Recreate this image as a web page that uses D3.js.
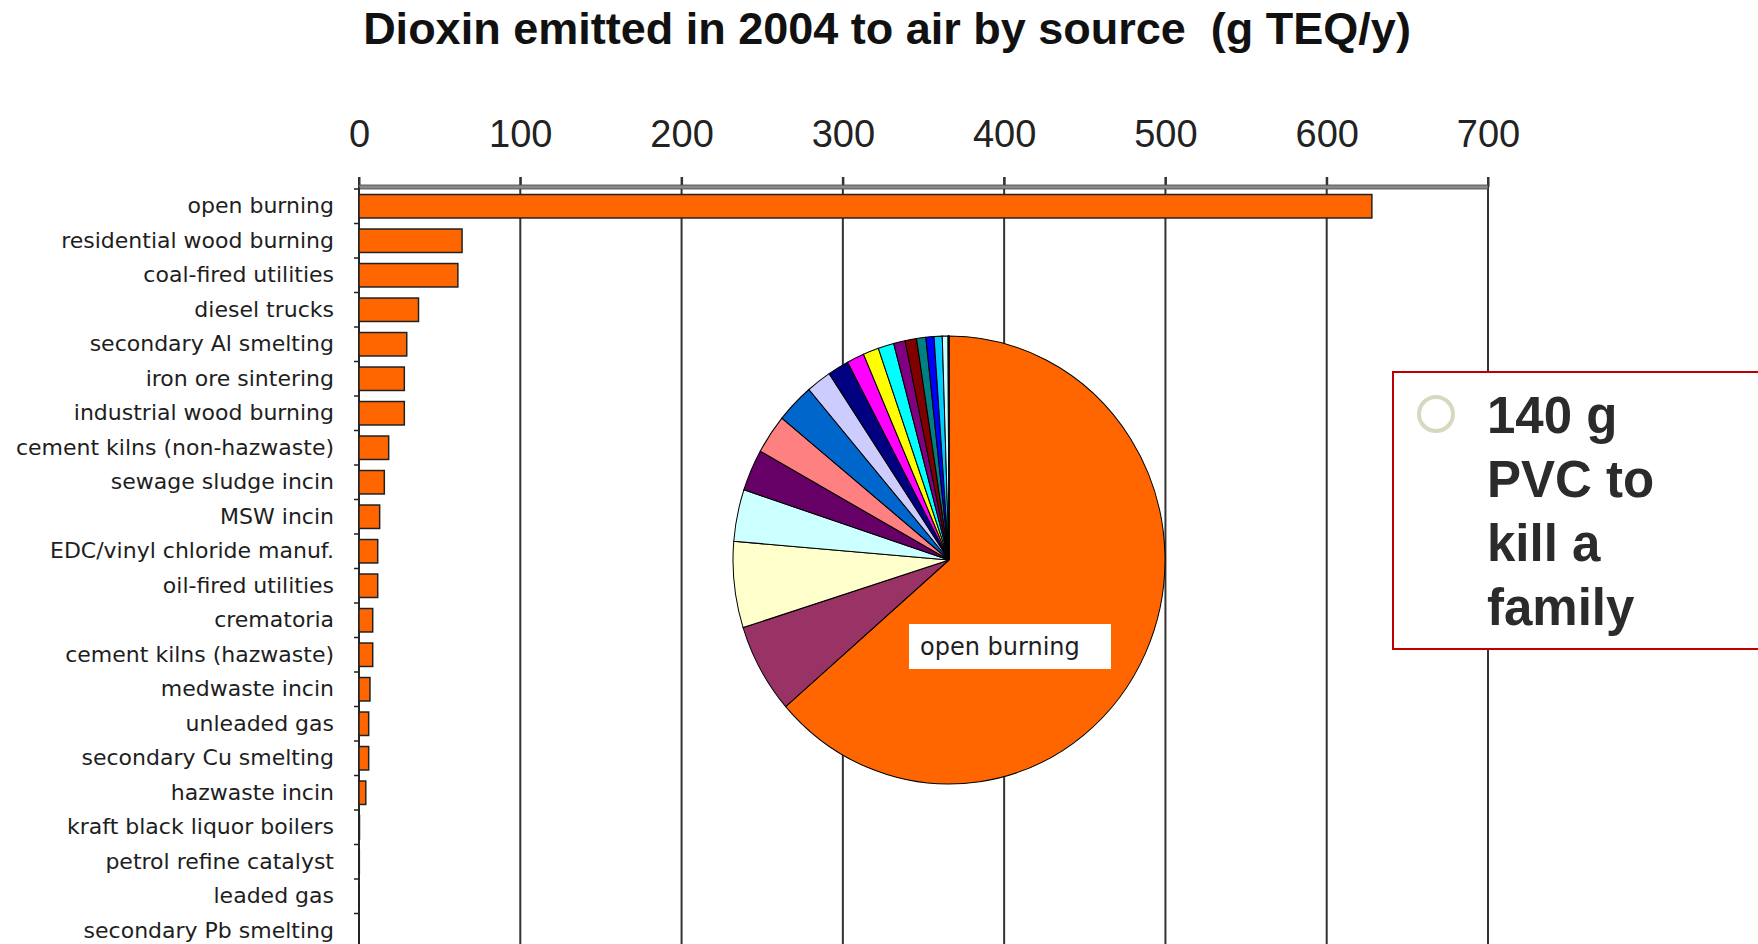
<!DOCTYPE html>
<html>
<head>
<meta charset="utf-8">
<script src="https://cdn.jsdelivr.net/npm/d3@7"></script>
<style>
  body { margin: 0; background: #fff; }
  svg { display: block; }
</style>
</head>
<body>
<div class="graph"></div>
<script>
// source categories, top to bottom
const sources = [
  "open burning", "residential wood burning", "coal-fired utilities", "diesel trucks",
  "secondary Al smelting", "iron ore sintering", "industrial wood burning",
  "cement kilns (non-hazwaste)", "sewage sludge incin", "MSW incin",
  "EDC/vinyl chloride manuf.", "oil-fired utilities", "crematoria",
  "cement kilns (hazwaste)", "medwaste incin", "unleaded gas",
  "secondary Cu smelting", "hazwaste incin", "kraft black liquor boilers",
  "petrol refine catalyst", "leaded gas", "secondary Pb smelting"
]
// g TEQ/y
const emissions = [628, 63.9, 61.3, 36.9, 29.6, 28.1, 28.1, 18.4, 15.7, 12.8, 11.6, 11.6,
  8.5, 8.5, 6.8, 6.0, 6.0, 4.2, 0.3, 0.2, 0.1, 0.1]
const xTicks = [0, 100, 200, 300, 400, 500, 600, 700]
const pieColors = ["#FF6600", "#993366", "#FFFFCC", "#CCFFFF", "#660066", "#FF8080", "#0066CC",
  "#CCCCFF", "#000080", "#FF00FF", "#FFFF00", "#00FFFF", "#800080", "#800000", "#008080",
  "#0000FF", "#00CCFF", "#CCFFFF", "#CCFFCC", "#FFFF99", "#99CCFF", "#FF99CC"]
const noteLines = ["140 g", "PVC to", "kill a", "family"]

let data = sources.map((s, i) => ({source: s, value: emissions[i]}))

const W = 1758, H = 944

let svg = d3.select('.graph')
    .append('svg')
    .attr('width', W)
    .attr('height', H)

let x = d3.scaleLinear().domain([0, 700]).range([359, 1488])
let y = d3.scaleBand().domain(sources).range([189, 189 + 34.5 * sources.length])
    .paddingInner(0.32).paddingOuter(0.16)

// title
svg.append('text')
    .attr('x', 887).attr('y', 44)
    .attr('text-anchor', 'middle')
    .style('font-family', '"Liberation Sans", Arial, sans-serif')
    .style('font-weight', 'bold')
    .style('font-size', '45px')
    .attr('fill', '#111')
    .text('Dioxin emitted in 2004 to air by source\u00a0\u00a0(g TEQ/y)')

// vertical grid lines
svg.append('g').selectAll('line')
    .data(xTicks)
    .enter()
    .append('line')
    .attr('x1', d => x(d)).attr('x2', d => x(d))
    .attr('y1', 177).attr('y2', H)
    .attr('stroke', '#333')
    .attr('stroke-width', 2)

// top axis
let xAxis = d3.axisTop(x).tickValues(xTicks).tickSize(10).tickPadding(30)
let gx = svg.append('g').attr('transform', 'translate(0,187)').call(xAxis)
gx.select('.domain').remove()
gx.selectAll('line').attr('stroke', '#333').attr('stroke-width', 2)
gx.selectAll('text')
    .style('font-family', '"Liberation Sans", Arial, sans-serif')
    .style('font-size', '38px')
    .attr('fill', '#222')

svg.append('rect')
    .attr('x', x(0)).attr('y', 185)
    .attr('width', x(700) - x(0)).attr('height', 4)
    .attr('fill', '#8a8a8a')
    .attr('stroke', '#444').attr('stroke-width', 0.8)

// left axis with labels
let yAxis = d3.axisLeft(y).tickSize(0).tickPadding(25)
let gy = svg.append('g').attr('transform', 'translate(' + x(0) + ',0)').call(yAxis)
gy.select('.domain').attr('stroke', '#222').attr('stroke-width', 1.2)
    .attr('d', 'M0,187V' + H)
gy.selectAll('text')
    .style('font-family', '"DejaVu Sans", Verdana, sans-serif')
    .style('font-size', '22px')
    .attr('fill', '#1e1e1e')

// little ticks at band boundaries
svg.append('g').selectAll('line')
    .data(sources)
    .enter()
    .append('line')
    .attr('x1', x(0) - 5).attr('x2', x(0))
    .attr('y1', d => y(d) - y.step() * y.paddingInner() / 2)
    .attr('y2', d => y(d) - y.step() * y.paddingInner() / 2)
    .attr('stroke', '#222')
    .attr('stroke-width', 1.5)

// bars
svg.append('g').selectAll('rect')
    .data(data)
    .enter()
    .append('rect')
    .attr('x', x(0))
    .attr('y', d => y(d.source))
    .attr('width', d => x(d.value) - x(0))
    .attr('height', y.bandwidth())
    .attr('fill', '#FF6600')
    .attr('stroke', '#222')
    .attr('stroke-width', 1.5)

// pie (slightly taller than wide, like the original)
let pie = d3.pie().sort(null).value(d => d.value)
let arc = d3.arc().innerRadius(0).outerRadius(216)
let gp = svg.append('g').attr('transform', 'translate(949,560) scale(1,1.037)')
gp.selectAll('path')
    .data(pie(data))
    .enter()
    .append('path')
    .attr('d', arc)
    .attr('fill', (d, i) => pieColors[i])
    .attr('stroke', '#000')
    .attr('stroke-width', 1)

// label inside the big slice
svg.append('rect')
    .attr('x', 909).attr('y', 624)
    .attr('width', 202).attr('height', 45)
    .attr('fill', '#fff')
svg.append('text')
    .attr('x', 920).attr('y', 655)
    .style('font-family', '"DejaVu Sans", Verdana, sans-serif')
    .style('font-size', '24px')
    .attr('fill', '#1e1e1e')
    .text(data[0].source)

// note box
svg.append('rect')
    .attr('x', 1393).attr('y', 372)
    .attr('width', 380).attr('height', 277)
    .attr('fill', '#fff')
    .attr('stroke', '#C00000')
    .attr('stroke-width', 2)
svg.append('circle')
    .attr('cx', 1436).attr('cy', 414).attr('r', 17)
    .attr('fill', 'none')
    .attr('stroke', '#D8D8C0')
    .attr('stroke-width', 4)
svg.append('g').selectAll('text')
    .data(noteLines)
    .enter()
    .append('text')
    .attr('x', 1487)
    .attr('y', (d, i) => 433 + i * 64)
    .style('font-family', '"Liberation Sans", Arial, sans-serif')
    .style('font-weight', 'bold')
    .style('font-size', '51px')
    .attr('fill', '#2b2b2b')
    .text(d => d)
</script>
</body>
</html>
